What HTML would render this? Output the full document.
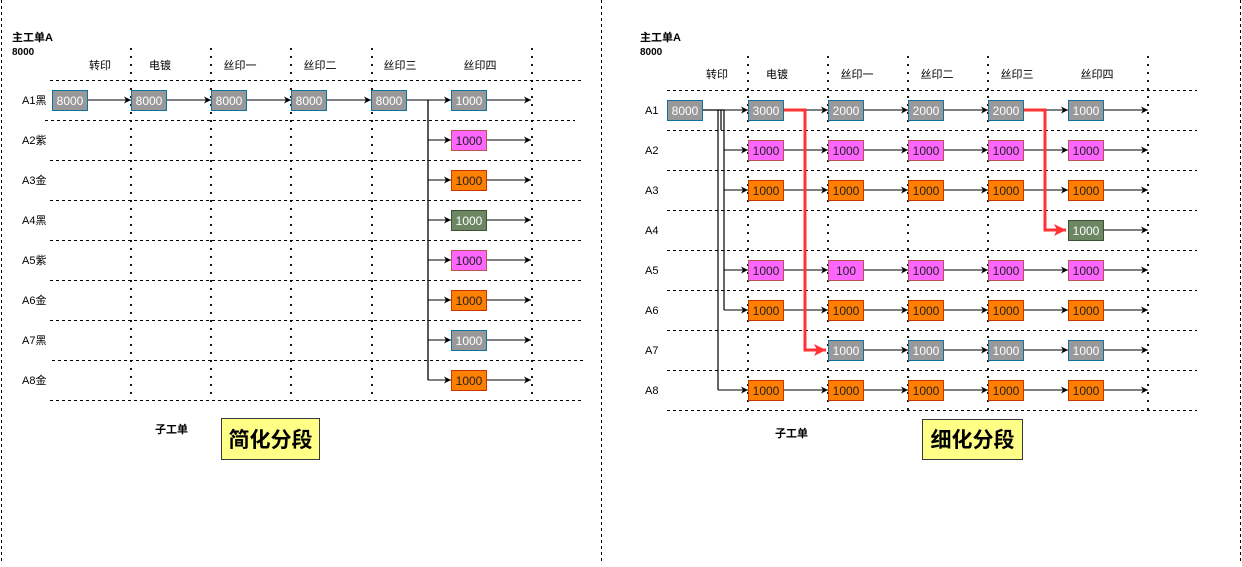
<!DOCTYPE html>
<html><head><meta charset="utf-8"><style>
html,body{margin:0;padding:0;background:#fff;}
svg text{font-family:"Liberation Sans","Noto Sans CJK SC",sans-serif;}
</style></head><body>
<svg width="1242" height="562" viewBox="0 0 1242 562" xmlns="http://www.w3.org/2000/svg">
<defs>
<marker id="a" markerWidth="8" markerHeight="8" refX="7" refY="4" orient="auto" markerUnits="userSpaceOnUse"><path d="M0,0.5 L7,4 L0,7.5 L2,4Z" fill="#000"/></marker>
<marker id="r" markerWidth="14" markerHeight="14" refX="12" refY="7" orient="auto" markerUnits="userSpaceOnUse"><path d="M0,1 L12,7 L0,13 L3,7Z" fill="#f33"/></marker>
</defs>
<g stroke="#000" stroke-dasharray="3,3" fill="none">
<line x1="1.5" y1="0" x2="1.5" y2="562"/>
<line x1="601.5" y1="0" x2="601.5" y2="562"/>
<line x1="1240.5" y1="0" x2="1240.5" y2="562"/>
</g>
<!-- LEFT -->
<text x="12" y="41" font-size="11" font-weight="bold">主工单A</text>
<text x="12" y="55" font-size="10" font-weight="bold">8000</text>
<g font-size="11" text-anchor="middle">
<text x="100" y="69">转印</text><text x="160" y="69">电镀</text><text x="240" y="69">丝印一</text><text x="320" y="69">丝印二</text><text x="400" y="69">丝印三</text><text x="480" y="69">丝印四</text>
</g>
<g stroke="#000" stroke-dasharray="2,6" stroke-width="1.8">
<line x1="131" y1="48" x2="131" y2="400"/><line x1="211" y1="48" x2="211" y2="400"/><line x1="291" y1="48" x2="291" y2="400"/><line x1="372" y1="48" x2="372" y2="400"/><line x1="532" y1="48" x2="532" y2="400"/>
</g>
<g stroke="#000" stroke-dasharray="3,3">
<line x1="50" y1="80.5" x2="584" y2="80.5"/><line x1="45" y1="120.5" x2="575" y2="120.5"/><line x1="50" y1="160.5" x2="584" y2="160.5"/><line x1="50" y1="200.5" x2="584" y2="200.5"/><line x1="50" y1="240.5" x2="584" y2="240.5"/><line x1="50" y1="280.5" x2="584" y2="280.5"/><line x1="50" y1="320.5" x2="584" y2="320.5"/><line x1="52" y1="360.5" x2="584" y2="360.5"/><line x1="50" y1="400.5" x2="584" y2="400.5"/>
</g>
<g font-size="11">
<text x="22" y="104">A1黑</text><text x="22" y="144">A2紫</text><text x="22" y="184">A3金</text><text x="22" y="224">A4黑</text><text x="22" y="264">A5紫</text><text x="22" y="304">A6金</text><text x="22" y="344">A7黑</text><text x="22" y="384">A8金</text>
</g>
<g stroke="#000" fill="none" marker-end="url(#a)">
<line x1="87" y1="100" x2="131" y2="100"/><line x1="166" y1="100" x2="211" y2="100"/><line x1="246" y1="100" x2="291" y2="100"/><line x1="326" y1="100" x2="371" y2="100"/><line x1="406" y1="100" x2="451" y2="100"/>
<line x1="428" y1="140" x2="451" y2="140"/><line x1="428" y1="180" x2="451" y2="180"/><line x1="428" y1="220" x2="451" y2="220"/><line x1="428" y1="260" x2="451" y2="260"/><line x1="428" y1="300" x2="451" y2="300"/><line x1="428" y1="340" x2="451" y2="340"/><line x1="428" y1="380" x2="451" y2="380"/>
<line x1="486" y1="100" x2="531" y2="100"/><line x1="486" y1="140" x2="531" y2="140"/><line x1="486" y1="180" x2="531" y2="180"/><line x1="486" y1="220" x2="531" y2="220"/><line x1="486" y1="260" x2="531" y2="260"/><line x1="486" y1="300" x2="531" y2="300"/><line x1="486" y1="340" x2="531" y2="340"/><line x1="486" y1="380" x2="531" y2="380"/>
</g>
<line x1="428" y1="100" x2="428" y2="380" stroke="#000" stroke-width="1.3"/>
<g font-size="12" text-anchor="middle">
<g fill="#999" stroke="#10739e"><rect x="52.5" y="90.5" width="35" height="20"/><rect x="131.5" y="90.5" width="35" height="20"/><rect x="211.5" y="90.5" width="35" height="20"/><rect x="291.5" y="90.5" width="35" height="20"/><rect x="371.5" y="90.5" width="35" height="20"/><rect x="451.5" y="90.5" width="35" height="20"/><rect x="451.5" y="330.5" width="35" height="20"/></g>
<g fill="#ff66ff" stroke="#b85450"><rect x="451.5" y="130.5" width="35" height="20"/><rect x="451.5" y="250.5" width="35" height="20"/></g>
<g fill="#ff8000" stroke="#c73500"><rect x="451.5" y="170.5" width="35" height="20"/><rect x="451.5" y="290.5" width="35" height="20"/><rect x="451.5" y="370.5" width="35" height="20"/></g>
<rect x="451.5" y="210.5" width="35" height="20" fill="#6d8764" stroke="#3a5431"/>
<g fill="#fff"><text x="70" y="105">8000</text><text x="149" y="105">8000</text><text x="229" y="105">8000</text><text x="309" y="105">8000</text><text x="389" y="105">8000</text><text x="469" y="105">1000</text><text x="469" y="225">1000</text><text x="469" y="345">1000</text></g>
<g fill="#222"><text x="469" y="145">1000</text><text x="469" y="185">1000</text><text x="469" y="265">1000</text><text x="469" y="305">1000</text><text x="469" y="385">1000</text></g>
</g>
<text x="155" y="433" font-size="11" font-weight="bold">子工单</text>
<rect x="221.5" y="418.5" width="98" height="41" fill="#ffff88" stroke="#36393d"/>
<text x="270.5" y="447" font-size="21" font-weight="bold" text-anchor="middle">简化分段</text>

<!-- RIGHT -->
<text x="640" y="41" font-size="11" font-weight="bold">主工单A</text>
<text x="640" y="55" font-size="10" font-weight="bold">8000</text>
<g font-size="11" text-anchor="middle">
<text x="717" y="78">转印</text><text x="777" y="78">电镀</text><text x="857" y="78">丝印一</text><text x="937" y="78">丝印二</text><text x="1017" y="78">丝印三</text><text x="1097" y="78">丝印四</text>
</g>
<g stroke="#000" stroke-dasharray="2,6" stroke-width="1.8">
<line x1="748" y1="56" x2="748" y2="410"/><line x1="828" y1="56" x2="828" y2="410"/><line x1="908" y1="56" x2="908" y2="410"/><line x1="988" y1="56" x2="988" y2="410"/><line x1="1148" y1="56" x2="1148" y2="410"/>
</g>
<g stroke="#000" stroke-dasharray="3,3">
<line x1="667" y1="90.5" x2="1197" y2="90.5"/><line x1="667" y1="130.5" x2="1197" y2="130.5"/><line x1="667" y1="170.5" x2="1197" y2="170.5"/><line x1="667" y1="210.5" x2="1197" y2="210.5"/><line x1="667" y1="250.5" x2="1197" y2="250.5"/><line x1="667" y1="290.5" x2="1197" y2="290.5"/><line x1="667" y1="330.5" x2="1197" y2="330.5"/><line x1="667" y1="370.5" x2="1197" y2="370.5"/><line x1="667" y1="410.5" x2="1197" y2="410.5"/>
</g>
<g font-size="11">
<text x="645" y="114">A1</text><text x="645" y="154">A2</text><text x="645" y="194">A3</text><text x="645" y="234">A4</text><text x="645" y="274">A5</text><text x="645" y="314">A6</text><text x="645" y="354">A7</text><text x="645" y="394">A8</text>
</g>
<g stroke="#000" fill="none" stroke-width="1.2">
<polyline points="702,110 724,110 724,310"/>
<polyline points="718,110 718,390"/>
<line x1="721" y1="110" x2="721" y2="130"/>
</g>
<g stroke="#000" fill="none" marker-end="url(#a)">
<line x1="702" y1="110" x2="748" y2="110"/>
<line x1="724" y1="150" x2="748" y2="150"/><line x1="724" y1="190" x2="748" y2="190"/><line x1="724" y1="270" x2="748" y2="270"/><line x1="724" y1="310" x2="748" y2="310"/><line x1="718" y1="390" x2="748" y2="390"/>
</g>
<g stroke="#000" fill="none" marker-end="url(#a)">
<line x1="783" y1="110" x2="828" y2="110"/><line x1="863" y1="110" x2="908" y2="110"/><line x1="943" y1="110" x2="988" y2="110"/><line x1="1023" y1="110" x2="1068" y2="110"/><line x1="1103" y1="110" x2="1148" y2="110"/>
<line x1="783" y1="150" x2="828" y2="150"/><line x1="863" y1="150" x2="908" y2="150"/><line x1="943" y1="150" x2="988" y2="150"/><line x1="1023" y1="150" x2="1068" y2="150"/><line x1="1103" y1="150" x2="1148" y2="150"/>
<line x1="783" y1="190" x2="828" y2="190"/><line x1="863" y1="190" x2="908" y2="190"/><line x1="943" y1="190" x2="988" y2="190"/><line x1="1023" y1="190" x2="1068" y2="190"/><line x1="1103" y1="190" x2="1148" y2="190"/>
<line x1="1103" y1="230" x2="1148" y2="230"/>
<line x1="783" y1="270" x2="828" y2="270"/><line x1="863" y1="270" x2="908" y2="270"/><line x1="943" y1="270" x2="988" y2="270"/><line x1="1023" y1="270" x2="1068" y2="270"/><line x1="1103" y1="270" x2="1148" y2="270"/>
<line x1="783" y1="310" x2="828" y2="310"/><line x1="863" y1="310" x2="908" y2="310"/><line x1="943" y1="310" x2="988" y2="310"/><line x1="1023" y1="310" x2="1068" y2="310"/><line x1="1103" y1="310" x2="1148" y2="310"/>
<line x1="863" y1="350" x2="908" y2="350"/><line x1="943" y1="350" x2="988" y2="350"/><line x1="1023" y1="350" x2="1068" y2="350"/><line x1="1103" y1="350" x2="1148" y2="350"/>
<line x1="783" y1="390" x2="828" y2="390"/><line x1="863" y1="390" x2="908" y2="390"/><line x1="943" y1="390" x2="988" y2="390"/><line x1="1023" y1="390" x2="1068" y2="390"/><line x1="1103" y1="390" x2="1148" y2="390"/>
</g>
<g stroke="#f33" stroke-width="3" fill="none" marker-end="url(#r)">
<polyline points="783,110 805,110 805,350 826,350"/>
<polyline points="1023,110 1045,110 1045,230 1066,230"/>
</g>
<g font-size="12" text-anchor="middle">
<g fill="#999" stroke="#10739e">
<rect x="667.5" y="100.5" width="35" height="20"/><rect x="748.5" y="100.5" width="35" height="20"/><rect x="828.5" y="100.5" width="35" height="20"/><rect x="908.5" y="100.5" width="35" height="20"/><rect x="988.5" y="100.5" width="35" height="20"/><rect x="1068.5" y="100.5" width="35" height="20"/>
<rect x="828.5" y="340.5" width="35" height="20"/><rect x="908.5" y="340.5" width="35" height="20"/><rect x="988.5" y="340.5" width="35" height="20"/><rect x="1068.5" y="340.5" width="35" height="20"/>
</g>
<g fill="#ff66ff" stroke="#b85450">
<rect x="748.5" y="140.5" width="35" height="20"/><rect x="828.5" y="140.5" width="35" height="20"/><rect x="908.5" y="140.5" width="35" height="20"/><rect x="988.5" y="140.5" width="35" height="20"/><rect x="1068.5" y="140.5" width="35" height="20"/>
<rect x="748.5" y="260.5" width="35" height="20"/><rect x="828.5" y="260.5" width="35" height="20"/><rect x="908.5" y="260.5" width="35" height="20"/><rect x="988.5" y="260.5" width="35" height="20"/><rect x="1068.5" y="260.5" width="35" height="20"/>
</g>
<g fill="#ff8000" stroke="#c73500">
<rect x="748.5" y="180.5" width="35" height="20"/><rect x="828.5" y="180.5" width="35" height="20"/><rect x="908.5" y="180.5" width="35" height="20"/><rect x="988.5" y="180.5" width="35" height="20"/><rect x="1068.5" y="180.5" width="35" height="20"/>
<rect x="748.5" y="300.5" width="35" height="20"/><rect x="828.5" y="300.5" width="35" height="20"/><rect x="908.5" y="300.5" width="35" height="20"/><rect x="988.5" y="300.5" width="35" height="20"/><rect x="1068.5" y="300.5" width="35" height="20"/>
<rect x="748.5" y="380.5" width="35" height="20"/><rect x="828.5" y="380.5" width="35" height="20"/><rect x="908.5" y="380.5" width="35" height="20"/><rect x="988.5" y="380.5" width="35" height="20"/><rect x="1068.5" y="380.5" width="35" height="20"/>
</g>
<rect x="1068.5" y="220.5" width="35" height="20" fill="#6d8764" stroke="#3a5431"/>
<g fill="#fff">
<text x="685" y="115">8000</text><text x="766" y="115">3000</text><text x="846" y="115">2000</text><text x="926" y="115">2000</text><text x="1006" y="115">2000</text><text x="1086" y="115">1000</text>
<text x="1086" y="235">1000</text>
<text x="846" y="355">1000</text><text x="926" y="355">1000</text><text x="1006" y="355">1000</text><text x="1086" y="355">1000</text>
</g>
<g fill="#222">
<text x="766" y="155">1000</text><text x="846" y="155">1000</text><text x="926" y="155">1000</text><text x="1006" y="155">1000</text><text x="1086" y="155">1000</text>
<text x="766" y="195">1000</text><text x="846" y="195">1000</text><text x="926" y="195">1000</text><text x="1006" y="195">1000</text><text x="1086" y="195">1000</text>
<text x="766" y="275">1000</text><text x="846" y="275">100</text><text x="926" y="275">1000</text><text x="1006" y="275">1000</text><text x="1086" y="275">1000</text>
<text x="766" y="315">1000</text><text x="846" y="315">1000</text><text x="926" y="315">1000</text><text x="1006" y="315">1000</text><text x="1086" y="315">1000</text>
<text x="766" y="395">1000</text><text x="846" y="395">1000</text><text x="926" y="395">1000</text><text x="1006" y="395">1000</text><text x="1086" y="395">1000</text>
</g>
</g>
<text x="775" y="437" font-size="11" font-weight="bold">子工单</text>
<rect x="922.5" y="419.5" width="100" height="40" fill="#ffff88" stroke="#36393d"/>
<text x="972.5" y="447" font-size="21" font-weight="bold" text-anchor="middle">细化分段</text>
</svg>
</body></html>
